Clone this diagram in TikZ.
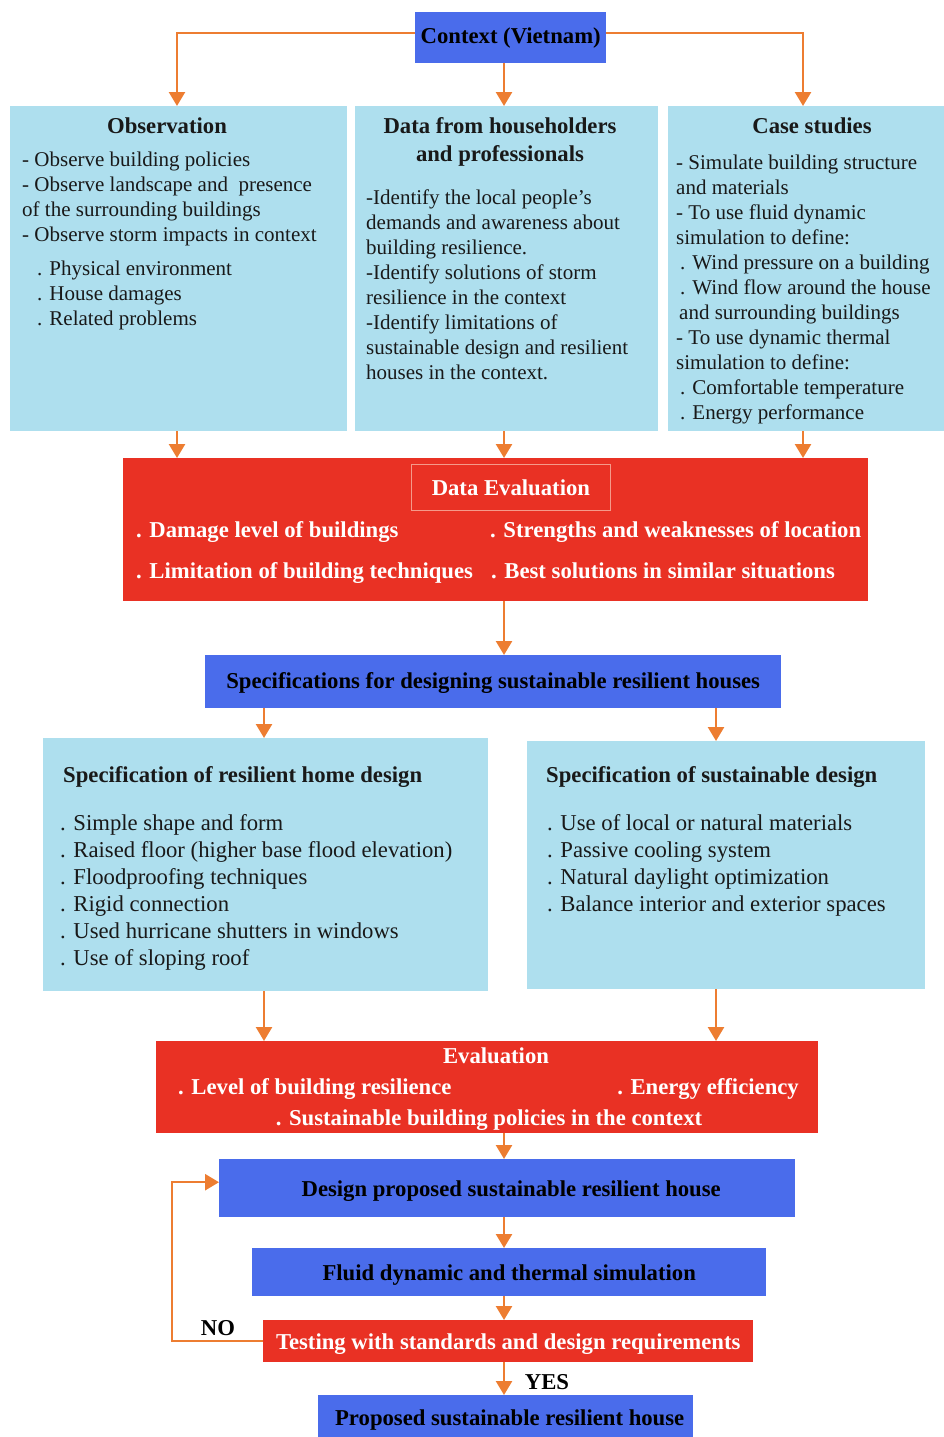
\documentclass[tikz,border=0pt]{standalone}
\usepackage{fontspec}
\setmainfont{Liberation Serif}
\usetikzlibrary{arrows.meta,calc}
\definecolor{bblue}{HTML}{4A6CEB}
\definecolor{lblue}{HTML}{AEDFEE}
\definecolor{rred}{HTML}{E93124}
\definecolor{aorange}{HTML}{ED7D31}
\definecolor{salmon}{HTML}{F59A8A}
\newcommand{\fl}{\rule{0pt}{16pt}}
\tikzset{
  boxbase/.style={rectangle,draw=none,inner sep=0pt,anchor=north west},
  lbbox/.style={boxbase,fill=lblue},
  bbox/.style={boxbase,fill=bblue,font=\fontsize{22.7}{27}\selectfont\bfseries,text=black},
  rbox/.style={boxbase,fill=rred,font=\fontsize{22.7}{27}\selectfont\bfseries,text=white},
  lowtext/.style={text height=#1,text depth=0pt},
  ttl/.style={inner sep=0pt,font=\fontsize{22.7}{28}\selectfont\bfseries,text=black!90,align=center},
  body/.style={inner sep=0pt,anchor=north west,align=left,font=\fontsize{21}{25}\selectfont,text=black!90},
  bodyL/.style={inner sep=0pt,anchor=north west,align=left,font=\fontsize{22.7}{27}\selectfont,text=black!90},
  wtxt/.style={inner sep=0pt,font=\fontsize{22.7}{27}\selectfont\bfseries,text=white},
  lbl/.style={inner sep=0pt,font=\fontsize{22.7}{27}\selectfont\bfseries,text=black},
  arr/.style={draw=aorange,line width=2.5pt,-{Triangle[width=16pt,length=14pt]}},
  ln/.style={draw=aorange,line width=2.5pt}
}
\begin{document}
\begin{tikzpicture}[x=1pt,y=-1pt]
\useasboundingbox (0,0) rectangle (944,1437);
\fill[white] (0,0) rectangle (944,1437);
% column coordinates
\coordinate (cA) at (177,0);
\coordinate (cB) at (504,0);
\coordinate (cC) at (803,0);
\coordinate (cD) at (264,0);
\coordinate (cE) at (716,0);
\coordinate (loopx) at (172,0);
% boxes
\node[bbox,minimum width=191pt,minimum height=51pt] (ctx) at (415,12) {Context (Vietnam)};
\node[lbbox,minimum width=337pt,minimum height=325pt] (obs) at (10,106) {};
\node[lbbox,minimum width=303pt,minimum height=325pt] (dat) at (355,106) {};
\node[lbbox,minimum width=276pt,minimum height=325pt] (cas) at (668,106) {};
% observation text
\node[ttl] (obsT) at (167,126) {Observation};
\node[body] (obsB) at (22,150) {\fl- Observe building policies\\
- Observe landscape and \ presence\\
of the surrounding buildings\\
- Observe storm impacts in context};
\node[body] (obsS) at (37,259) {\fl. Physical environment\\
. House damages\\
. Related problems};
% data text
\node[ttl] (datT) at (500,142) {Data from householders\\and professionals};
\node[body] (datB) at (366,188) {\fl-Identify the local people’s\\
demands and awareness about\\
building resilience.\\
-Identify solutions of storm\\
resilience in the context\\
-Identify limitations of\\
sustainable design and resilient\\
houses in the context.};
% case studies text
\node[ttl] (casT) at (812,126) {Case studies};
\node[body] (casB) at (676,153) {\fl- Simulate building structure\\
and materials\\
- To use fluid dynamic\\
simulation to define:\\
\hspace{4pt}. Wind pressure on a building\\
\hspace{4pt}. Wind flow around the house\\
\hspace{3pt}and surrounding buildings\\
- To use dynamic thermal\\
simulation to define:\\
\hspace{4pt}. Comfortable temperature\\
\hspace{4pt}. Energy performance};
% data evaluation
\node[rbox,minimum width=745pt,minimum height=143pt] (de) at (123,458) {};
\node[boxbase,draw=salmon,line width=0.8pt,minimum width=199pt,minimum height=46pt] (deT) at (411,464) {};
\node[wtxt] (deTt) at (deT.center) {Data Evaluation};
\node[wtxt,anchor=base west] (de1) at (136,537) {. Damage level of buildings};
\node[wtxt,anchor=base west] (de2) at (490,537) {. Strengths and weaknesses of location};
\node[wtxt,anchor=base west] (de3) at (136,578) {. Limitation of building techniques};
\node[wtxt,anchor=base west] (de4) at (491,578) {. Best solutions in similar situations};
% specifications
\node[bbox,lowtext=13pt,minimum width=576pt,minimum height=53pt] (spec) at (205,655) {Specifications for designing sustainable resilient houses};
\node[lbbox,minimum width=445pt,minimum height=253pt] (res) at (43,738) {};
\node[lbbox,minimum width=398pt,minimum height=248pt] (sus) at (527,741) {};
\node[ttl,anchor=base west] (resT) at (63,782) {Specification of resilient home design};
\node[bodyL] (resB) at (60,814) {\fl. Simple shape and form\\
. Raised floor (higher base flood elevation)\\
. Floodproofing techniques\\
. Rigid connection\\
. Used hurricane shutters in windows\\
. Use of sloping roof};
\node[ttl,anchor=base west] (susT) at (546,782) {Specification of sustainable design};
\node[bodyL] (susB) at (547,814) {\fl. Use of local or natural materials\\
. Passive cooling system\\
. Natural daylight optimization\\
. Balance interior and exterior spaces};
% evaluation
\node[rbox,minimum width=662pt,minimum height=92pt] (ev) at (156,1041) {};
\node[wtxt,anchor=base] (evT) at (496,1063) {Evaluation};
\node[wtxt,anchor=base west] (ev1) at (178,1094.5) {. Level of building resilience};
\node[wtxt,anchor=base east] (ev2) at (799,1094.5) {. Energy efficiency};
\node[wtxt,anchor=base] (ev3) at (489,1125) {. Sustainable building policies in the context};
% lower chain
\node[bbox,lowtext=17pt,minimum width=576pt,minimum height=58pt] (des) at (219,1159) {\hspace{8pt}Design proposed sustainable resilient house};
\node[bbox,lowtext=17pt,minimum width=514pt,minimum height=48pt] (flu) at (252,1248) {Fluid dynamic and thermal simulation};
\node[rbox,lowtext=17pt,minimum width=490pt,minimum height=42pt] (tst) at (263,1320) {Testing with standards and design requirements};
\node[bbox,lowtext=19pt,minimum width=375pt,minimum height=42pt] (pro) at (318,1395) {\hspace{8pt}Proposed sustainable resilient house};
\node[lbl] (no) at (218,1328) {NO};
\node[lbl] (yes) at (547,1382) {YES};
% connectors
\draw[arr] ([yshift=4.5pt]ctx.west) -| (cA |- obs.north);
\draw[arr] ([yshift=4.5pt]ctx.east) -| (cC |- cas.north);
\draw[arr] (cB |- ctx.south) -- (cB |- dat.north);
\draw[arr] (cA |- obs.south) -- (cA |- de.north);
\draw[arr] (cB |- dat.south) -- (cB |- de.north);
\draw[arr] (cC |- cas.south) -- (cC |- de.north);
\draw[arr] (cB |- de.south) -- (cB |- spec.north);
\draw[arr] (cD |- spec.south) -- (cD |- res.north);
\draw[arr] (cE |- spec.south) -- (cE |- sus.north);
\draw[arr] (cD |- res.south) -- (cD |- ev.north);
\draw[arr] (cE |- sus.south) -- (cE |- ev.north);
\draw[arr] (cB |- ev.south) -- (cB |- des.north);
\draw[arr] (cB |- des.south) -- (cB |- flu.north);
\draw[arr] (cB |- flu.south) -- (cB |- tst.north);
\draw[arr] (cB |- tst.south) -- (cB |- pro.north);
\draw[arr] (tst.west) -- (loopx |- tst.west) |- ([yshift=6pt]des.west);
\end{tikzpicture}
\end{document}
